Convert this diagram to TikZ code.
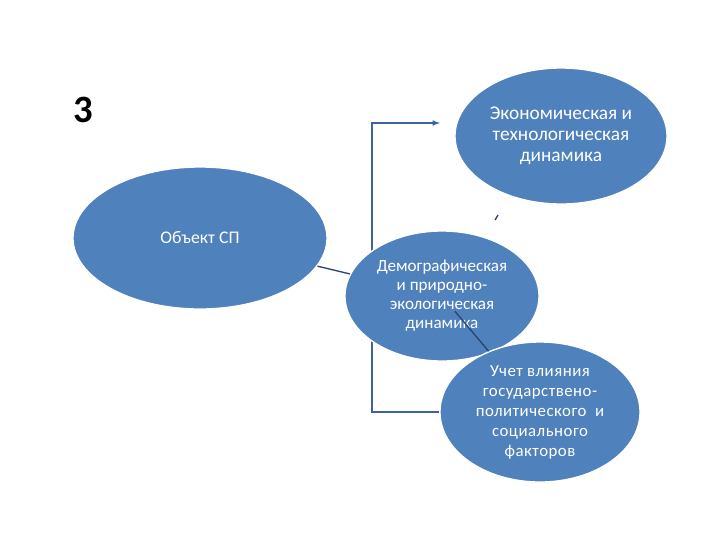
\documentclass[tikz,border=0pt]{standalone}
\usepackage{fontspec}
\setmainfont{Carlito}
\usetikzlibrary{shapes.geometric,backgrounds}

\tikzset{every picture/.style={line width=0.75pt}}
\tikzset{
  blob/.style={ellipse, fill={rgb, 255:red, 79; green, 129; blue, 189 }, draw=white, line width=1pt, text=white, align=center, inner sep=0pt},
  link/.style={draw={rgb, 255:red, 62; green, 100; blue, 155 }, line width=0.9pt},
  stub/.style={draw={rgb, 255:red, 44; green, 68; blue, 110 }, line width=1pt},
}

\begin{document}
\begin{tikzpicture}[x=0.75pt,y=0.75pt,yscale=-1,xscale=1]
%set diagram left start at 0, and has height of 540
\path (0,0) rectangle (720,540);

\node (num) at (83,110) {\fontsize{29}{30}\selectfont\bfseries 3};

\node [blob, minimum width=190.5pt, minimum height=106.5pt, font=\fontsize{13.3}{15}\selectfont] (obj) at (200,238) {Объект СП};
\node [blob, minimum width=159pt, minimum height=102pt, font=\fontsize{14.5}{15.8}\selectfont] (econ) at (561,136) {Экономическая и\\технологическая\\динамика};
\node [blob, minimum width=145.5pt, minimum height=97.5pt, font=\fontsize{12.8}{14.2}\selectfont] (demo) at (442,296) {Демографическая\\и природно-\\экологическая\\динамика};
\node [blob, minimum width=150pt, minimum height=105pt, font=\fontsize{12.6}{15}\selectfont\addfontfeatures{LetterSpace=3}] (ucet) at (540,412) {Учет влияния\\государствено-\\политического~ и\\социального\\факторов};

\coordinate (bend) at (372,123);
\coordinate (econin) at (440,123);
\coordinate (tickA) at (495,220);
\coordinate (tickB) at (498,215);

\begin{scope}[on background layer]
\draw [link,-latex] (ucet.west) -| (bend) -- (econin);
\end{scope}

\draw [stub] (obj) -- (demo);
\draw [stub, shorten <=41pt] (demo) -- (ucet);
\draw [stub] (tickA) -- (tickB);

\end{tikzpicture}
\end{document}
